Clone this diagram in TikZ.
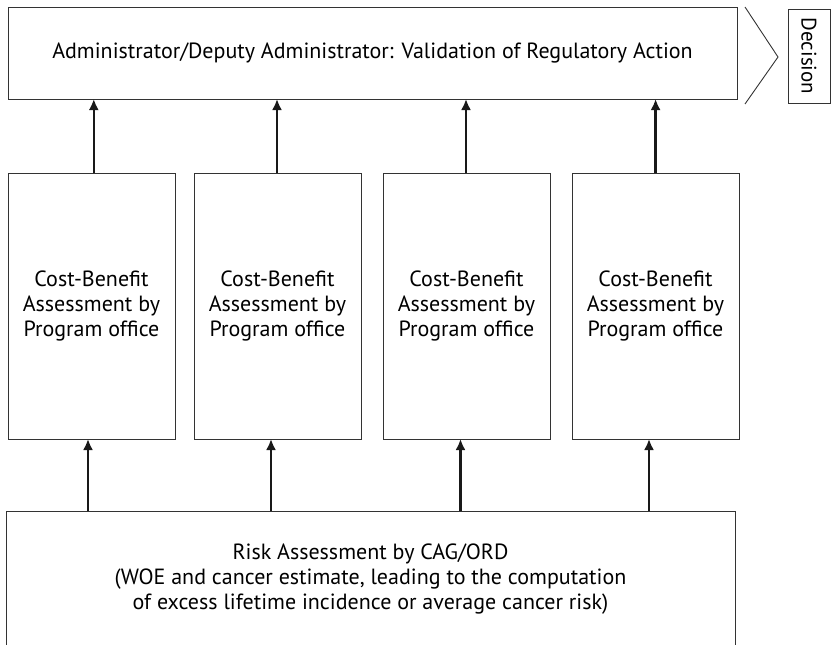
\documentclass[tikz,border=0pt]{standalone}
\usepackage{fontspec}
\setmainfont{PT Sans}
\usetikzlibrary{arrows.meta}
\begin{document}
\begin{tikzpicture}[x=1pt,y=-1pt,
  box/.style={draw=black!80, line width=0.9pt, inner sep=0pt, outer sep=0pt, align=center, anchor=north west},
  arr/.style={draw=black!90, line width=2.4pt, -{Latex[length=11pt,width=10pt]}},
  txt/.style={font=\fontsize{22}{25}\selectfont}]
\useasboundingbox (0,0) rectangle (831,645);
% top box
\node[box, txt, minimum width=729pt, minimum height=92pt] (top) at (8,7)
  {Administrator/Deputy Administrator: Validation of Regulatory Action};
% chevron
\coordinate (chevA) at (745,7);
\coordinate (chevT) at (778,57);
\coordinate (chevB) at (745,104);
\draw[black!80, line width=0.9pt] (chevA) -- (chevT) -- (chevB);
% decision box
\node[box, minimum width=42pt, minimum height=94pt] (dec) at (788,9) {};
\node[font=\fontsize{21}{25}\selectfont, rotate=-90] (dectxt) at (dec.center) {Decision};
% middle boxes
\foreach \i/\x in {1/8, 2/194, 3/383, 4/572} {
  \node[box, txt, minimum width=167pt, minimum height=266pt] (cb\i) at (\x,173)
    {Cost-Benefit\\Assessment by\\Program office};
}
% bottom box (open at the bottom)
\node[txt, inner sep=0pt, outer sep=0pt, minimum width=729pt, minimum height=136pt, anchor=north west, align=center] (bot) at (6,511)
  {Risk Assessment by CAG/ORD\\(WOE and cancer estimate, leading to the computation\\of excess lifetime incidence or average cancer risk)};
\draw[black!80, line width=0.9pt] (bot.south west) -- (bot.north west) -- (bot.north east) -- (bot.south east);
% arrow columns
\coordinate (u1) at (93.8,0);
\coordinate (u2) at (277,0);
\coordinate (u3) at (466,0);
\coordinate (u4) at (655.6,0);
\coordinate (d1) at (88,0);
\coordinate (d2) at (271,0);
\coordinate (d3) at (460.5,0);
\coordinate (d4) at (649,0);
\foreach \i in {1,2,3,4} {
  \draw[arr] (u\i |- cb\i.north) -- (u\i |- top.south);
  \draw[arr] (d\i |- bot.north) -- (d\i |- cb\i.south);
}
\end{tikzpicture}
\end{document}
